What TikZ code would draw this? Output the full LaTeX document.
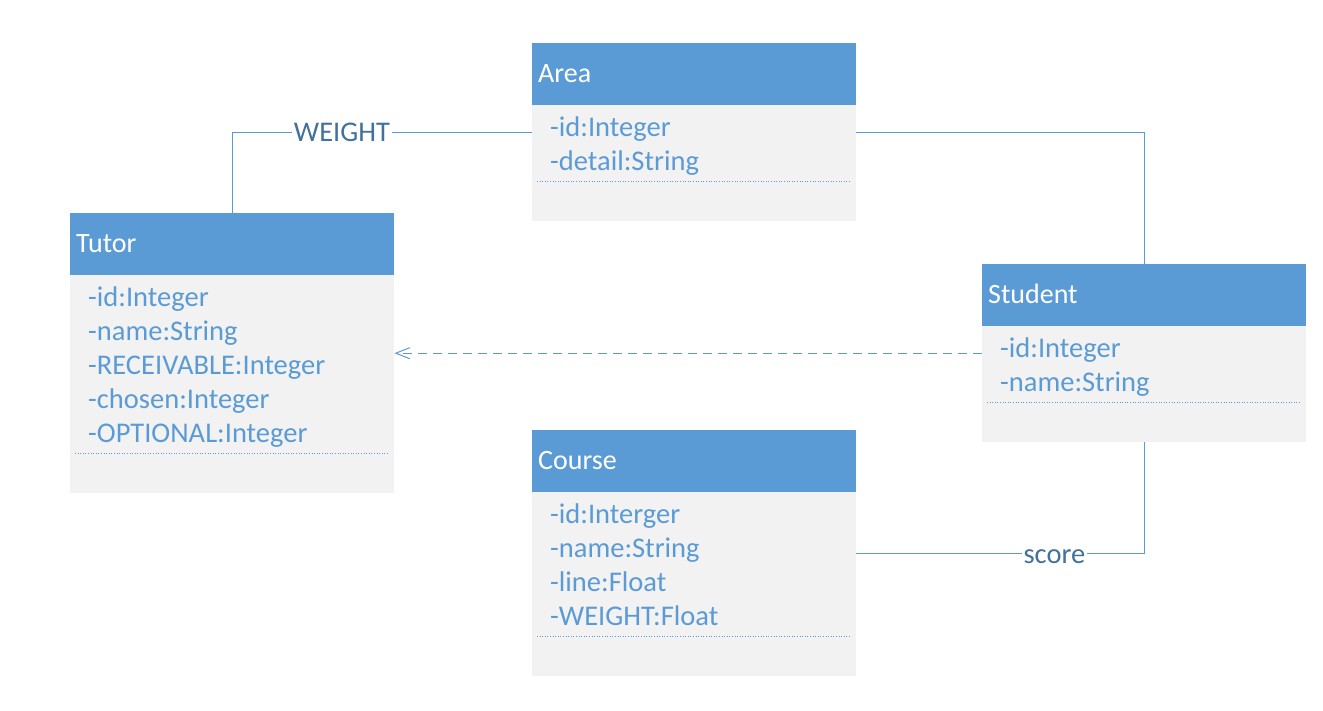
\documentclass[tikz,border=0pt]{standalone}
\usepackage{fontspec}
\setmainfont{Carlito}
\usetikzlibrary{arrows.meta}
\definecolor{hdrblue}{HTML}{5B9BD5}
\definecolor{bodygray}{HTML}{F2F2F2}
\definecolor{lblblue}{HTML}{41719C}
\begin{document}
\begin{tikzpicture}[x=1pt,y=-1pt,
  classbox/.style={rectangle, fill=bodygray, draw=none, anchor=north west, inner sep=0pt, minimum width=324pt},
  hdrbox/.style={rectangle, fill=hdrblue, draw=none, anchor=north west, inner sep=0pt, minimum width=324pt, minimum height=62pt},
  hdrtext/.style={anchor=base west, inner sep=0pt, text=white, font=\fontsize{28}{33}\selectfont},
  attr/.style={anchor=base west, inner sep=0pt, text=hdrblue, font=\fontsize{28.5}{34}\selectfont},
  sep/.style={draw=hdrblue, line width=0.6pt, dotted},
  conn/.style={draw=hdrblue, line width=1.1pt},
  lbl/.style={fill=white, inner xsep=2pt, inner ysep=0pt, text=lblblue, font=\fontsize{28.5}{34}\selectfont}
]
\useasboundingbox (0,0) rectangle (1323,710);

% Area
\node[classbox, minimum height=178pt] (area) at (532,43) {};
\node[hdrbox] (areaH) at (532,43) {};
\node[hdrtext] (areaT) at (538,82) {Area};
\node[attr] (areaA1) at (550,136) {-id:Integer};
\node[attr] (areaA2) at (550,170) {-detail:String};
\draw[sep] (537,181) -- (850,181);

% Tutor
\node[classbox, minimum height=280pt] (tutor) at (70,213) {};
\node[hdrbox] (tutorH) at (70,213) {};
\node[hdrtext] (tutorT) at (76,252) {Tutor};
\node[attr] (tutorA1) at (88,306) {-id:Integer};
\node[attr] (tutorA2) at (88,340) {-name:String};
\node[attr] (tutorA3) at (88,374) {-RECEIVABLE:Integer};
\node[attr] (tutorA4) at (88,408) {-chosen:Integer};
\node[attr] (tutorA5) at (88,442) {-OPTIONAL:Integer};
\draw[sep] (75,453) -- (388,453);

% Student
\node[classbox, minimum height=178pt] (student) at (982,264) {};
\node[hdrbox] (studentH) at (982,264) {};
\node[hdrtext] (studentT) at (988,303) {Student};
\node[attr] (studentA1) at (1000,357) {-id:Integer};
\node[attr] (studentA2) at (1000,391) {-name:String};
\draw[sep] (987,402) -- (1300,402);

% Course
\node[classbox, minimum height=246pt] (course) at (532,430) {};
\node[hdrbox] (courseH) at (532,430) {};
\node[hdrtext] (courseT) at (538,469) {Course};
\node[attr] (courseA1) at (550,523) {-id:Interger};
\node[attr] (courseA2) at (550,557) {-name:String};
\node[attr] (courseA3) at (550,591) {-line:Float};
\node[attr] (courseA4) at (550,625) {-WEIGHT:Float};
\draw[sep] (537,636) -- (850,636);

% Connectors
\draw[conn] (tutor.north) |- node[lbl, pos=0.683] (wlbl) {WEIGHT} (area.west);
\draw[conn] (area.east) -| (student.north);
\draw[conn, dash pattern=on 9pt off 6pt, -{Straight Barb[length=14pt,width=11pt,line width=1pt]}] (student.west) -- (tutor.east);
\draw[conn] (student.south) |- node[lbl, pos=0.656, yshift=-3pt] (slbl) {score} (course.east);
\end{tikzpicture}
\end{document}
